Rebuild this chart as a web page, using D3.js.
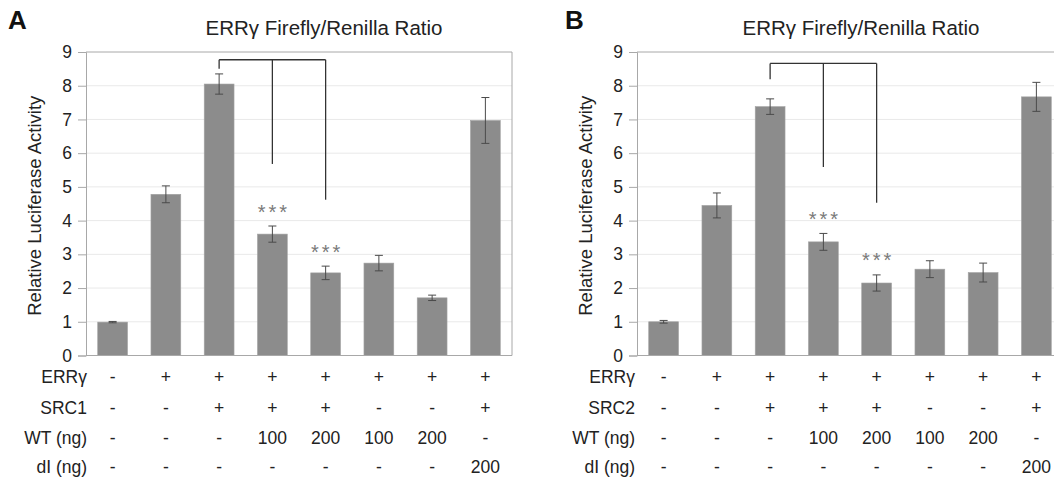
<!DOCTYPE html>
<html>
<head>
<meta charset="utf-8">
<script src="https://cdn.jsdelivr.net/npm/d3@7"></script>
<style>
  body { margin: 0; background: #fff; }
  svg text { font-family: "Liberation Sans", Arial, Helvetica, sans-serif; fill: #222; }
</style>
</head>
<body>
<svg id="chart" width="1054" height="482"></svg>
<script>
// --- Data ---
const bars = [0, 1, 2, 3, 4, 5, 6, 7];
const yTicks = [0, 1, 2, 3, 4, 5, 6, 7, 8, 9];

const rowLabelsA = ["ERRγ", "SRC1", "WT (ng)", "dI (ng)"];
const rowLabelsB = ["ERRγ", "SRC2", "WT (ng)", "dI (ng)"];
const errRow = ["-", "+", "+", "+", "+", "+", "+", "+"];
const srcRow = ["-", "-", "+", "+", "+", "-", "-", "+"];
const wtRow  = ["-", "-", "-", "100", "200", "100", "200", "-"];
const dlRow  = ["-", "-", "-", "-", "-", "-", "-", "200"];

const valuesA = [0.99, 4.78, 8.05, 3.60, 2.45, 2.74, 1.71, 6.97];
const errorsA = [0.02, 0.25, 0.30, 0.24, 0.20, 0.23, 0.08, 0.68];
const valuesB = [1.00, 4.45, 7.38, 3.37, 2.15, 2.56, 2.46, 7.67];
const errorsB = [0.04, 0.37, 0.23, 0.25, 0.24, 0.25, 0.28, 0.43];

const starBars = [3, 4];
// bracket: top level, then the end level of each leg (bars 2, 3, 4)
const bracketBars = [2, 3, 4];
const bracketA = { top: 8.77, ends: [8.50, 5.68, 4.62] };
const bracketB = { top: 8.66, ends: [8.19, 5.59, 4.53] };

const title = "ERRγ Firefly/Renilla Ratio";
const yLabel = "Relative Luciferase Activity";

const svg = d3.select("#chart");

function drawPanel(cfg) {
    const g = svg.append("g");
    const x = d3.scaleBand().domain(bars).range([cfg.left, cfg.left + 426]).paddingInner(0.44).paddingOuter(0.22);
    const y = d3.scaleLinear().domain([0, 9]).range([355.5, 52]);

    // --- Grid ---
    g.append("g").selectAll("line")
        .data(yTicks.slice(1, -1))
        .join("line")
        .attr("x1", cfg.left).attr("x2", cfg.left + 426)
        .attr("y1", d => y(d)).attr("y2", d => y(d))
        .attr("stroke", "#e9e9e9").attr("stroke-width", 1);

    // --- Frame (top/right) ---
    g.append("path")
        .attr("d", `M${cfg.left},${y(9)}H${cfg.left + 426}V${y(0)}`)
        .attr("fill", "none").attr("stroke", "#a8a8a8").attr("stroke-width", 1);

    // --- Bars ---
    g.append("g").selectAll("rect")
        .data(cfg.values)
        .join("rect")
        .attr("x", (d, i) => x(i))
        .attr("width", x.bandwidth())
        .attr("y", d => y(d))
        .attr("height", d => y(0) - y(d))
        .attr("fill", "#8c8c8c")
        .attr("stroke", "#a3a3a3").attr("stroke-width", 0.6);

    // --- Error bars ---
    const eb = g.append("g").attr("stroke", "#4a4a4a").attr("stroke-width", 1);
    cfg.values.forEach((v, i) => {
        const cx = x(i) + x.bandwidth() / 2;
        const e = cfg.errors[i];
        eb.append("line").attr("x1", cx).attr("x2", cx).attr("y1", y(v + e)).attr("y2", y(v - e));
        eb.append("line").attr("x1", cx - 4).attr("x2", cx + 4).attr("y1", y(v + e)).attr("y2", y(v + e));
        eb.append("line").attr("x1", cx - 4).attr("x2", cx + 4).attr("y1", y(v - e)).attr("y2", y(v - e));
    });

    // --- Axes ---
    const yAxis = g.append("g")
        .attr("transform", `translate(${cfg.left},0)`)
        .call(d3.axisLeft(y).tickValues(yTicks).tickSize(8).tickPadding(6));
    yAxis.select(".domain").attr("stroke", "#a8a8a8");
    yAxis.selectAll(".tick line").attr("stroke", "#a8a8a8");
    yAxis.selectAll(".tick text").attr("font-size", 17.5).attr("fill", "#222")
        .style("font-family", "'Liberation Sans', Arial, sans-serif");

    g.append("line")
        .attr("x1", cfg.left).attr("x2", cfg.left + 426)
        .attr("y1", y(0)).attr("y2", y(0))
        .attr("stroke", "#a8a8a8");

    // --- Stars ---
    g.append("g").selectAll("text")
        .data(starBars)
        .join("text")
        .attr("x", d => x(d) + x.bandwidth() / 2 + 1.5)
        .attr("y", d => y(cfg.values[d] + cfg.errors[d]) - 7.5)
        .attr("text-anchor", "middle")
        .attr("font-size", 20)
        .attr("letter-spacing", 3)
        .style("fill", "#7a7a7a")
        .text("***");

    // --- Bracket ---
    const bx = i => x(bracketBars[i]) + x.bandwidth() / 2;
    const br = g.append("g").attr("stroke", "#333").attr("stroke-width", 1.3).attr("fill", "none");
    br.append("line").attr("x1", bx(0)).attr("x2", bx(2)).attr("y1", y(cfg.bracket.top)).attr("y2", y(cfg.bracket.top));
    cfg.bracket.ends.forEach((e, i) => {
        br.append("line").attr("x1", bx(i)).attr("x2", bx(i)).attr("y1", y(cfg.bracket.top)).attr("y2", y(e));
    });

    // --- Title, labels ---
    g.append("text").attr("x", cfg.titleX).attr("y", 35)
        .attr("text-anchor", "middle").attr("font-size", 20.5).text(title);
    g.append("text").attr("x", cfg.panelX).attr("y", 29)
        .attr("font-size", 26).attr("font-weight", "bold").style("fill", "#111").text(cfg.panel);
    g.append("text")
        .attr("transform", `translate(${cfg.left - 45},${(y(0) + y(9)) / 2 + 2}) rotate(-90)`)
        .attr("text-anchor", "middle").attr("font-size", 18.5).text(yLabel);

    // --- Condition table ---
    const rows = [errRow, cfg.srcRow, wtRow, dlRow];
    const rowY = [383, 414, 443.5, 473];
    rows.forEach((row, r) => {
        g.append("text").attr("x", cfg.left + cfg.rowLabelDx).attr("y", rowY[r])
            .attr("text-anchor", "end").attr("font-size", 17.5).text(cfg.rowLabels[r]);
        g.append("g").selectAll("text")
            .data(row)
            .join("text")
            .attr("x", (d, i) => x(i) + x.bandwidth() / 2)
            .attr("y", rowY[r])
            .attr("text-anchor", "middle")
            .attr("font-size", 17.5)
            .text(d => d);
    });
}

drawPanel({ left: 86, values: valuesA, errors: errorsA, bracket: bracketA, srcRow: srcRow,
    rowLabels: rowLabelsA, panel: "A", panelX: 8, titleX: 324, rowLabelDx: 1 });
drawPanel({ left: 637, values: valuesB, errors: errorsB, bracket: bracketB, srcRow: srcRow,
    rowLabels: rowLabelsB, panel: "B", panelX: 565, titleX: 861, rowLabelDx: -2 });
</script>
</body>
</html>
